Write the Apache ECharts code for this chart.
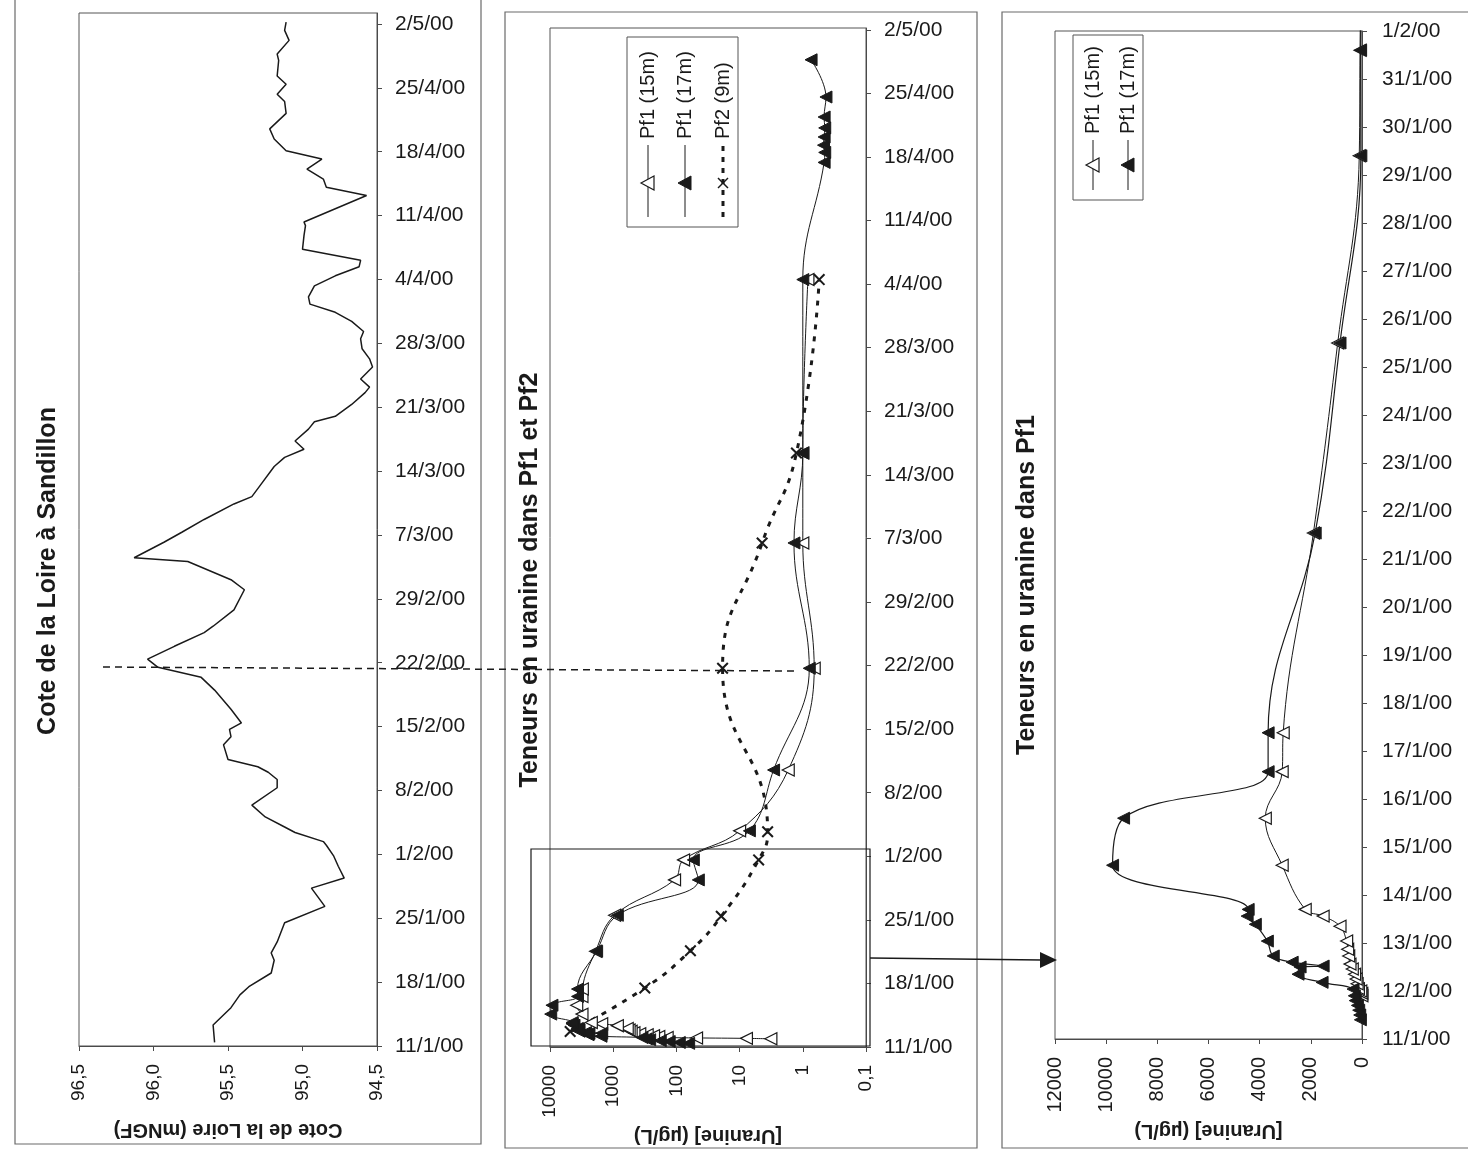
<!DOCTYPE html>
<html><head><meta charset="utf-8">
<script src="https://cdn.jsdelivr.net/npm/echarts@6.0.0/dist/echarts.min.js"></script>
<style>html,body{margin:0;padding:0;background:#fff}#c{width:1468px;height:1158px}</style>
</head><body><div id="c"></div>
<script>
// Days are counted from 11/1/00 (day 0)
const loireDays = [0.4,2.3,4.2,5.6,6.5,8.0,9.4,10.2,11.4,13.5,15.3,17.3,18.4,19.7,20.8,22.0,22.4,23.4,24.0,25.1,26.4,28.3,29.2,30.0,30.6,31.4,33.0,33.9,34.7,35.4,36.9,39.0,40.4,41.5,42.4,43.8,45.3,46.0,47.8,50.0,51.1,53.1,53.5,55.2,56.3,57.7,59.4,60.2,61.3,63.5,64.5,65.4,66.3,67.6,68.4,69.0,70.3,71.6,72.2,73.1,74.4,75.3,76.4,77.5,78.3,79.4,80.4,81.3,82.1,83.3,84.4,85.4,86.1,87.3,88.8,89.9,90.3,93.2,94.1,95.0,96.1,97.2,98.1,99.4,100.5,102.2,103.5,104.3,105.4,106.3,108.0,108.7,110.2,111.3,112.2];
const loireLevels = [95.59,95.60,95.48,95.42,95.36,95.21,95.19,95.21,95.17,95.12,94.85,94.94,94.72,94.76,94.79,94.84,94.86,95.05,95.12,95.25,95.34,95.17,95.17,95.23,95.30,95.50,95.53,95.48,95.49,95.41,95.48,95.59,95.68,95.97,96.04,95.86,95.66,95.60,95.46,95.39,95.48,95.77,96.13,95.93,95.81,95.66,95.46,95.34,95.29,95.19,95.12,94.99,95.05,94.96,94.92,94.78,94.67,94.58,94.55,94.61,94.53,94.55,94.60,94.61,94.59,94.67,94.78,94.95,94.96,94.92,94.78,94.62,94.61,95.00,94.99,94.98,94.99,94.57,94.84,94.86,94.97,94.87,95.11,95.19,95.22,95.11,95.12,95.17,95.11,95.17,95.16,95.17,95.09,95.12,95.11];

const pf1m15Days = [0.90,0.95,1.00,1.05,1.15,1.25,1.35,1.46,1.56,1.73,1.87,2.04,2.35,2.56,2.70,3.62,4.60,5.57,6.38,10.54,14.5,18.4,20.6,23.8,30.5,41.7,55.5,65.4,84.5];
const pf1m15Values = [3.2,7.8,48,140,190,230,290,380,470,520,560,600,860,1520,2220,3120,3780,3120,3080,1900,950,107,77,10,1.7,0.66,1.0,1.0,0.83];

const pf1m17Days = [0.40,0.50,0.60,0.70,0.80,0.90,1.04,1.18,1.35,1.50,1.52,1.60,1.73,2.04,2.39,2.56,2.70,3.62,4.60,5.57,6.38,10.54,14.5,18.4,20.6,23.8,30.5,41.7,55.5,65.4,84.5,97.4,98.5,99.3,100.2,101.2,102.4,104.6,108.7];
const pf1m17Values = [64,90,130,180,265,300,350,1560,2500,2420,1520,2730,3470,3700,4170,4490,4450,9750,9320,3670,3670,1830,860,45,54,7,2.9,0.79,1.38,1.0,1.0,0.46,0.45,0.47,0.46,0.45,0.46,0.43,0.74];

const pf2Days = [1.7,6.5,10.6,14.4,20.6,23.7,41.7,55.5,65.4,84.5];
const pf2Values = [4800,316,60,19.5,5.0,3.6,18.6,4.4,1.26,0.55];

const weekTicks = [0,7,14,21,28,35,42,49,56,63,70,77,84,91,98,105,112];
const dayTicks = [0,1,2,3,4,5,6,7,8,9,10,11,12,13,14,15,16,17,18,19,20,21];

const FONT = 'Liberation Sans, Arial, sans-serif';
const INK = '#1a1a1a';
const AX = '#4a4a4a';

function dayLabel(v){
  const d = new Date(2000, 0, 11 + Math.round(v));
  return d.getDate() + '/' + (d.getMonth() + 1) + '/00';
}
function zip(xs, ys){ return xs.map((x, i) => [x, ys[i]]); }

const xSymbol = 'path://M0,1.2 L1.2,0 L10,8.8 L8.8,10 Z M8.8,0 L10,1.2 L1.2,10 L0,8.8 Z';

function dateAxis(gi, max, ticks, margin){
  return {
    gridIndex: gi, type: 'value', position: 'right', min: 0, max: max,
    axisLine: {show: true, lineStyle: {color: AX, width: 1}},
    axisTick: {show: true, length: 5, customValues: ticks, lineStyle: {color: AX}},
    splitLine: {show: false},
    axisLabel: {customValues: ticks, formatter: dayLabel, fontSize: 21, fontFamily: FONT, color: INK, margin: margin}
  };
}
function valueAxisBase(gi){
  return {
    gridIndex: gi, position: 'bottom',
    axisLine: {show: true, onZero: false, lineStyle: {color: AX, width: 1}},
    axisTick: {show: true, length: 5, lineStyle: {color: AX}},
    splitLine: {show: false},
    nameLocation: 'middle', nameRotate: 180,
    nameTextStyle: {fontSize: 20, fontWeight: 'bold', fontFamily: FONT, color: INK}
  };
}

const chart = echarts.init(document.getElementById('c'), null, {renderer: 'canvas'});

const tri = 'triangle';
const openStyle = {color: '#fff', borderColor: INK, borderWidth: 1.2};
const fillStyle = {color: INK, borderColor: INK, borderWidth: 1};

function legendEntry(x, yLineTop, yLineBot, yMark, label, kind){
  const els = [];
  if (kind === 'pf2') {
    els.push({type: 'line', shape: {x1: x, y1: yLineBot, x2: x, y2: yLineTop}, style: {stroke: INK, lineWidth: 3, lineDash: [5, 6]}});
    els.push({type: 'line', shape: {x1: x-5, y1: yMark-5, x2: x+5, y2: yMark+5}, style: {stroke: INK, lineWidth: 1.5}});
    els.push({type: 'line', shape: {x1: x+5, y1: yMark-5, x2: x-5, y2: yMark+5}, style: {stroke: INK, lineWidth: 1.5}});
  } else {
    els.push({type: 'line', shape: {x1: x, y1: yLineBot, x2: x, y2: yLineTop}, style: {stroke: INK, lineWidth: 1}});
    els.push({type: 'polygon', shape: {points: [[x-7, yMark], [x+6, yMark-7], [x+6, yMark+7]]},
      style: kind === 'open' ? {fill: '#fff', stroke: INK, lineWidth: 1.2} : {fill: INK, stroke: INK}});
  }
  els.push({type: 'text', x: x, y: yLineTop - 6, rotation: Math.PI/2,
    style: {text: label, font: '20px ' + FONT, fill: INK, align: 'left', verticalAlign: 'middle', textAlign: 'left', textVerticalAlign: 'middle'}});
  return els;
}

function vtitle(x, y, text){
  return {type: 'text', x: x, y: y, rotation: Math.PI/2,
    style: {text: text, font: 'bold 25px ' + FONT, fill: INK, align: 'center', verticalAlign: 'middle', textAlign: 'center', textVerticalAlign: 'middle'}};
}

const graphics = [
  {type: 'rect', shape: {x: 15, y: -2, width: 466, height: 1146}, style: {fill: 'none', stroke: '#6a6a6a', lineWidth: 1.2}, z: -1},
  {type: 'rect', shape: {x: 505, y: 12, width: 472, height: 1136}, style: {fill: 'none', stroke: '#6a6a6a', lineWidth: 1.2}, z: -1},
  {type: 'rect', shape: {x: 1002, y: 12, width: 470, height: 1136}, style: {fill: 'none', stroke: '#6a6a6a', lineWidth: 1.2}, z: -1},
  vtitle(48, 571, 'Cote de la Loire à Sandillon'),
  vtitle(530, 580, 'Teneurs en uranine dans Pf1 et Pf2'),
  vtitle(1027, 585, 'Teneurs en uranine dans Pf1'),
  {type: 'rect', shape: {x: 627, y: 37, width: 111, height: 190}, style: {fill: '#fff', stroke: '#555', lineWidth: 1}, z: 10},
  {type: 'rect', shape: {x: 1073, y: 35, width: 70, height: 165}, style: {fill: '#fff', stroke: '#555', lineWidth: 1}, z: 10},
  {type: 'line', shape: {x1: 103, y1: 667, x2: 795, y2: 671}, style: {stroke: INK, lineWidth: 1.5, lineDash: [7, 5]}, z: 20},
  {type: 'rect', shape: {x: 531, y: 849, width: 339, height: 197}, style: {fill: 'none', stroke: INK, lineWidth: 1.2}, z: 20},
  {type: 'line', shape: {x1: 870, y1: 958, x2: 1042, y2: 960}, style: {stroke: INK, lineWidth: 1.3}, z: 20},
  {type: 'polygon', shape: {points: [[1040, 952], [1057, 960], [1040, 968]]}, style: {fill: INK}, z: 20}
];
[].concat(
  legendEntry(648, 145, 217, 183, 'Pf1 (15m)', 'open'),
  legendEntry(685, 145, 217, 183, 'Pf1 (17m)', 'fill'),
  legendEntry(723, 145, 217, 183, 'Pf2 (9m)', 'pf2'),
  legendEntry(1093, 140, 190, 165, 'Pf1 (15m)', 'open'),
  legendEntry(1128, 140, 190, 165, 'Pf1 (17m)', 'fill')
).forEach(e => { e.z = 11; graphics.push(e); });

const option = {
  animation: false,
  backgroundColor: '#fff',
  textStyle: {fontFamily: FONT},
  grid: [
    {left: 79, top: 13, width: 298, height: 1033, show: true, borderColor: '#555', borderWidth: 1, backgroundColor: 'transparent', containLabel: false, outerBoundsMode: 'none'},
    {left: 550, top: 28, width: 316, height: 1019, show: true, borderColor: '#555', borderWidth: 1, backgroundColor: 'transparent', containLabel: false, outerBoundsMode: 'none'},
    {left: 1055, top: 31, width: 307, height: 1008, show: true, borderColor: '#555', borderWidth: 1, backgroundColor: 'transparent', containLabel: false, outerBoundsMode: 'none'}
  ],
  xAxis: [
    Object.assign(valueAxisBase(0), {type: 'value', min: 94.5, max: 96.5, interval: 0.5, inverse: true,
      name: 'Cote de la Loire (mNGF)', nameGap: 74,
      axisLabel: {rotate: 90, fontSize: 19, fontFamily: FONT, color: INK, margin: 18,
        formatter: v => v.toFixed(1).replace('.', ',')}}),
    Object.assign(valueAxisBase(1), {type: 'log', logBase: 10, min: 0.1, max: 10000, inverse: true,
      name: '[Uranine] (µg/L)', nameGap: 74,
      axisLabel: {rotate: 90, fontSize: 19, fontFamily: FONT, color: INK, margin: 18,
        formatter: v => String(v).replace('.', ',')}}),
    Object.assign(valueAxisBase(2), {type: 'value', min: 0, max: 12000, interval: 2000, inverse: true,
      name: '[Uranine] (µg/L)', nameGap: 82,
      axisLabel: {rotate: 90, fontSize: 20, fontFamily: FONT, color: INK, margin: 18,
        formatter: v => String(v)}})
  ],
  yAxis: [
    dateAxis(0, 113.2, weekTicks, 18),
    dateAxis(1, 112.2, weekTicks, 18),
    dateAxis(2, 21, dayTicks, 20)
  ],
  graphic: graphics,
  series: [
    {name: 'Cote de la Loire', type: 'line', xAxisIndex: 0, yAxisIndex: 0, data: zip(loireLevels, loireDays),
      showSymbol: false, symbol: 'none', lineStyle: {color: INK, width: 1.5}},
    {name: 'Pf1 (15m)', type: 'line', xAxisIndex: 1, yAxisIndex: 1, data: zip(pf1m15Values, pf1m15Days),
      symbol: tri, symbolRotate: 90, symbolSize: 12, smooth: 0.4, itemStyle: openStyle, lineStyle: {color: INK, width: 1}},
    {name: 'Pf1 (17m)', type: 'line', xAxisIndex: 1, yAxisIndex: 1, data: zip(pf1m17Values, pf1m17Days),
      symbol: tri, symbolRotate: 90, symbolSize: 12, smooth: 0.4, itemStyle: fillStyle, lineStyle: {color: INK, width: 1}},
    {name: 'Pf2 (9m)', type: 'line', xAxisIndex: 1, yAxisIndex: 1, data: zip(pf2Values, pf2Days),
      symbol: xSymbol, symbolSize: 12, smooth: 0.5, itemStyle: {color: INK}, lineStyle: {color: INK, width: 3, type: [5, 7]}},
    {name: 'Pf1 (15m) zoom', type: 'line', xAxisIndex: 2, yAxisIndex: 2, data: zip(pf1m15Values, pf1m15Days),
      symbol: tri, symbolRotate: 90, symbolSize: 12, smooth: 0.4, itemStyle: openStyle, lineStyle: {color: INK, width: 1}},
    {name: 'Pf1 (17m) zoom', type: 'line', xAxisIndex: 2, yAxisIndex: 2, data: zip(pf1m17Values, pf1m17Days),
      symbol: tri, symbolRotate: 90, symbolSize: 12, smooth: 0.4, itemStyle: fillStyle, lineStyle: {color: INK, width: 1.2}}
  ]
};
chart.setOption(option);
</script>
</body></html>
